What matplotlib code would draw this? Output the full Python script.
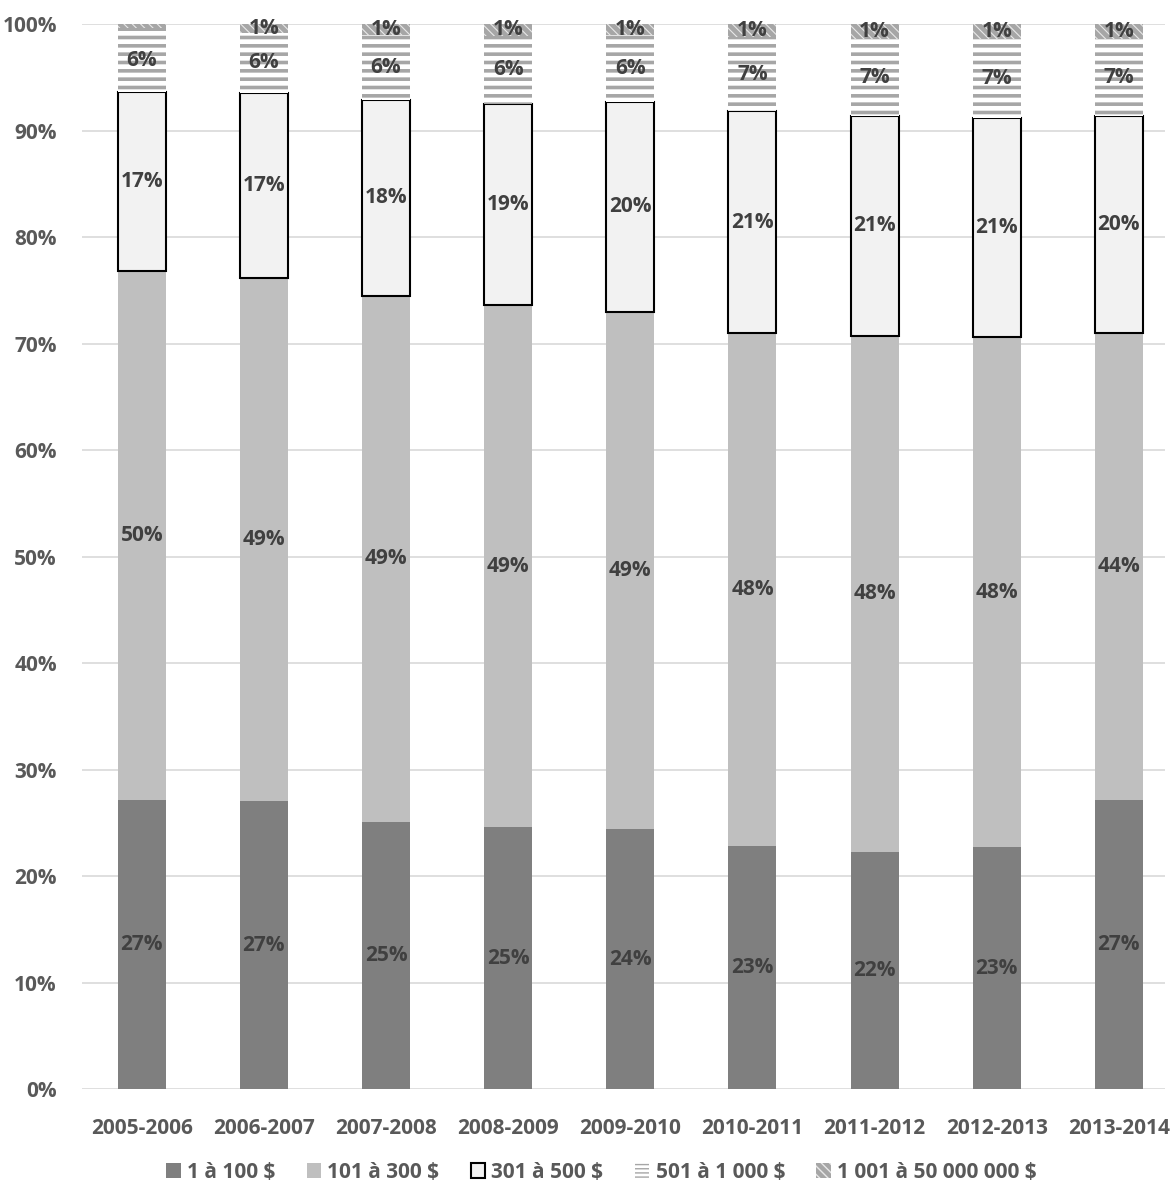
import numpy as np
import matplotlib
matplotlib.use("Agg")
import matplotlib.pyplot as plt
import matplotlib.patches as mpatches

plt.rcParams['font.family'] = ['Open Sans', 'DejaVu Sans']
plt.rcParams['font.weight'] = 'bold'

years = ["2005-2006", "2006-2007", "2007-2008", "2008-2009", "2009-2010",
         "2010-2011", "2011-2012", "2012-2013", "2013-2014"]
series_names = ["1 à 100 $", "101 à 300 $", "301 à 500 $", "501 à 1 000 $",
                "1 001 à 50 000 000 $"]

# share of each amount bracket, in percent
s_1_100 = [27.1, 27.0, 25.1, 24.6, 24.4, 22.8, 22.3, 22.7, 27.1]
s_101_300 = [49.7, 49.2, 49.4, 49.0, 48.6, 48.2, 48.4, 47.9, 43.9]
s_301_500 = [16.8, 17.3, 18.4, 18.9, 19.7, 20.8, 20.7, 20.6, 20.4]
s_501_1000 = [6.0, 5.7, 6.1, 6.4, 6.3, 7.0, 7.2, 7.4, 7.2]
s_1001_plus = [0.4, 0.8, 1.0, 1.1, 1.0, 1.2, 1.4, 1.4, 1.4]

# printed labels (first year has no label on the top bracket)
lab_1_100 = ["27%", "27%", "25%", "25%", "24%", "23%", "22%", "23%", "27%"]
lab_101_300 = ["50%", "49%", "49%", "49%", "49%", "48%", "48%", "48%", "44%"]
lab_301_500 = ["17%", "17%", "18%", "19%", "20%", "21%", "21%", "21%", "20%"]
lab_501_1000 = ["6%", "6%", "6%", "6%", "6%", "7%", "7%", "7%", "7%"]
lab_1001_plus = ["", "1%", "1%", "1%", "1%", "1%", "1%", "1%", "1%"]

series = [s_1_100, s_101_300, s_301_500, s_501_1000, s_1001_plus]
labels = [lab_1_100, lab_101_300, lab_301_500, lab_501_1000, lab_1001_plus]

styles = [
    dict(color="#7f7f7f", linewidth=0),
    dict(color="#bfbfbf", linewidth=0),
    dict(facecolor="#f2f2f2", edgecolor="black", linewidth=1.5),
    dict(facecolor="white", edgecolor="#a6a6a6", hatch="--", linewidth=0),
    dict(facecolor="#a6a6a6", edgecolor="#e8e8e8", hatch="\\\\\\\\", linewidth=0),
]
hatch_lw = [1.0, 1.0, 1.0, 2.6, 0.8]

# legend swatches are small, so the striped one gets denser, thinner lines
legend_styles = list(styles)
legend_styles[3] = dict(facecolor="white", edgecolor="#a6a6a6", hatch="----", linewidth=0)
legend_hatch_lw = [1.0, 1.0, 1.0, 1.6, 0.8]

fig = plt.figure(figsize=(11.70, 11.84), dpi=100)
ax = fig.add_axes([0.070, 0.0802, 0.926, 0.8995])

x = np.arange(len(years))
width = 0.393
bottom = np.zeros(len(years))
handles = []
for i, (vals, labs, name) in enumerate(zip(series, labels, series_names)):
    vals = np.array(vals)
    with plt.rc_context({'hatch.linewidth': hatch_lw[i]}):
        ax.bar(x, vals, width, bottom=bottom, zorder=3, **styles[i])
    with plt.rc_context({'hatch.linewidth': legend_hatch_lw[i]}):
        handles.append(mpatches.Patch(label=name, **legend_styles[i]))
    for xi, b, v, lab in zip(x, bottom, vals, labs):
        if lab:
            ax.text(xi, b + v / 2, lab, ha="center", va="center",
                    fontsize=15, fontweight="bold", color="#404040", zorder=5)
    bottom += vals

ax.set_ylim(0, 100)
ax.set_xlim(-0.49, 8.38)
ax.set_yticks(np.arange(0, 101, 10))
ax.set_yticklabels([f"{v}%" for v in range(0, 101, 10)])
ax.set_xticks(x)
ax.set_xticklabels(years)
ax.grid(axis="y", color="#d9d9d9", linewidth=1.2, zorder=0)
for sp in ax.spines.values():
    sp.set_visible(False)
ax.tick_params(length=0, labelsize=15, labelcolor="#595959")
ax.tick_params(axis="x", pad=21)
ax.tick_params(axis="y", pad=18)
for t in ax.get_xticklabels() + ax.get_yticklabels():
    t.set_fontweight("bold")

fig.legend(handles=handles, loc="center", bbox_to_anchor=(0.514, 0.010), ncol=5,
           frameon=False, fontsize=15, labelcolor="#595959",
           handlelength=0.7, handleheight=0.7, handletextpad=0.3, columnspacing=1.5)

plt.savefig("out.png", dpi=100)
plt.close()
